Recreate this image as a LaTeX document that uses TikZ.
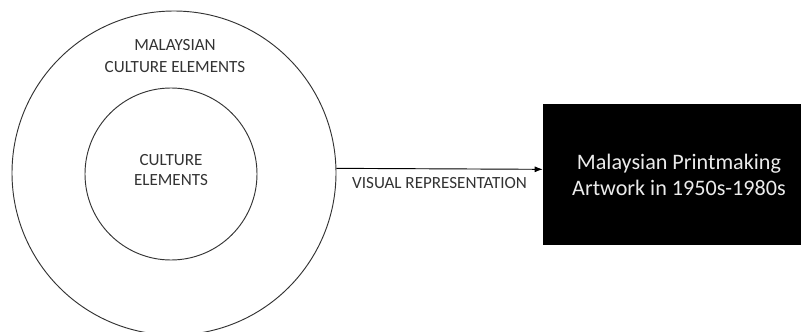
\documentclass[tikz,border=0pt]{standalone}
\usepackage{fontspec}
\setmainfont{Carlito}
\usetikzlibrary{arrows.meta}
\tikzset{
  ring/.style={draw=black!80, line width=0.7pt, circle, inner sep=0pt},
  lbl/.style={font=\fontsize{12.8}{16}\selectfont, align=center, text=black!80},
}
\begin{document}
\begin{tikzpicture}[x=0.75pt, y=-0.75pt]
\useasboundingbox (0,0) rectangle (801,332);
\node[ring, minimum size=243pt] (outer) at (174,173) {};
\node[ring, minimum size=129pt] (inner) at (171,174) {};
\node[lbl, font=\fontsize{12.8}{16.5}\selectfont] (outerlbl) at (175,56) {MALAYSIAN\\CULTURE ELEMENTS};
\node[lbl, font=\fontsize{12.8}{15}\selectfont] (innerlbl) at (171,170) {CULTURE\\ELEMENTS};
\node[fill=black, draw=black, minimum width=193.5pt, minimum height=105pt, inner sep=0pt] (artwork) at (672,174) {};
\node[text=white!92!black, align=center, font=\fontsize{16.6}{19.5}\selectfont] (artlbl) at (679,175)
  {Malaysian Printmaking\\Artwork in 1950s-1980s};
\draw[line width=0.7pt, -{Latex[length=6pt, width=4.5pt]}] ([yshift=3.5pt]outer.east) -- ([yshift=3.5pt]artwork.west)
  node[lbl, midway, below=3pt] (vislbl) {VISUAL REPRESENTATION};
\end{tikzpicture}
\end{document}
